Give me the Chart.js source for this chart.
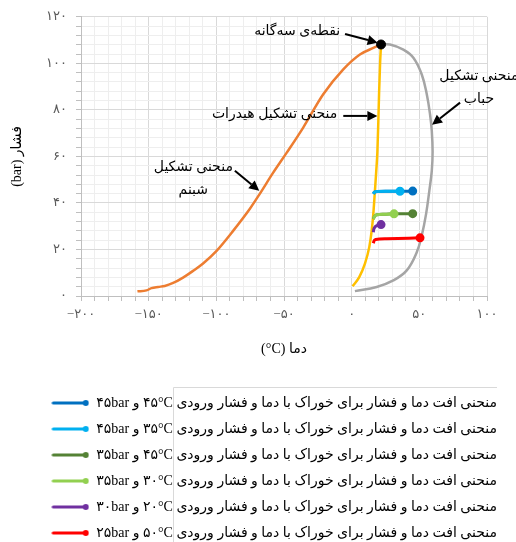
<!DOCTYPE html>
<html>
<head>
<meta charset="utf-8">
<script src="https://cdn.jsdelivr.net/npm/chart.js@4.4.0/dist/chart.umd.min.js"></script>
<style>
  html, body { margin: 0; padding: 0; background: #fff; }
  #wrap { width: 516px; height: 542px; }
</style>
</head>
<body>
<div id="wrap"><canvas id="chart"></canvas></div>
<script>
// dew curve (orange)
var dewT = [-158.3, -151.6, -147.9, -143, -138.1, -131.9, -124.6, -117.2, -109.8, -100, -87.6, -75.2, -67.8, -58, -48.1, -35.8, -21, -6.2, 6.1, 16, 21.7];
var dewP = [2.0, 2.4, 3.4, 3.9, 4.3, 5.6, 7.9, 10.8, 14, 19.3, 28, 37.5, 44, 53, 61.5, 72.4, 86.7, 97.4, 103.8, 106.6, 108.1];
// bubble curve (gray)
var bubT = [21.7, 28.3, 38.2, 45.6, 51.8, 55.5, 57.9, 59.2, 59.8, 59.2, 57.4, 55, 51.8, 48.1, 40.7, 30.8, 18.5, 2.4];
var bubP = [108.1, 108.1, 105.9, 102.4, 95.2, 86.7, 78.1, 71, 62, 53.8, 45.3, 35.3, 26, 18.8, 11, 6.7, 3.9, 2.1];
// hydrate curve (yellow)
var hydT = [0.7, 5.6, 9.8, 13, 14.8, 16, 17.2, 18.2, 19, 19.7, 20.3, 21, 21.7];
var hydP = [4.2, 8.1, 13.9, 21, 28.1, 35.3, 45.3, 54, 62, 75, 88, 100, 108.1];
// triple point
var tripleT = [21.7];
var tripleP = [108.1];

// temperature / pressure drop curves for each feed
var lb_T = [16, 16.8, 19, 25, 35.7];
var lb_P = [43.9, 44.6, 44.9, 45, 45];
var db_T = [16, 16.8, 19, 25, 35.7, 45.1];
var db_P = [43.9, 44.6, 44.9, 45, 45, 45.1];
var lg_T = [16, 17, 18.5, 24, 31.3];
var lg_P = [33.1, 34.3, 34.9, 35.1, 35.3];
var dg_T = [16, 17, 18.5, 24, 31.3, 45.1];
var dg_P = [33.1, 34.3, 34.9, 35.1, 35.3, 35.4];
var pu_T = [16, 16.3, 16.9, 18.9, 21.7];
var pu_P = [27.4, 28.6, 29.4, 30.3, 30.7];
var rd_T = [16, 16.6, 17.8, 25.9, 50.5];
var rd_P = [22.7, 23.8, 24.3, 24.6, 25];

// feed conditions for the legend (°C, bar)
var feedTemp = [45, 35, 45, 30, 20, 50];
var feedPres = [45, 45, 35, 35, 30, 25];

var PERSIAN = '۰۱۲۳۴۵۶۷۸۹';
function fa(n) {
  var s = String(Math.abs(n)).replace(/\d/g, function (d) { return PERSIAN[d]; });
  return n < 0 ? '\u200E\u2212' + s : s;
}
function pts(xs, ys) {
  return xs.map(function (x, i) { return { x: x, y: ys[i] }; });
}
function feedLabel(i) {
  return 'منحنی افت دما و فشار برای خوراک با دما و فشار ورودی ' +
    '\u2066' + fa(feedTemp[i]) + '°C\u2069 و \u2066' + fa(feedPres[i]) + 'bar\u2069';
}
function endDot(ctx) {
  return ctx.dataIndex === ctx.dataset.data.length - 1 ? 3 : 0;
}

var FONT = "'Liberation Serif', 'DejaVu Sans', serif";

// legend swatch: line with a dot at its end
function swatch(color) {
  var c = document.createElement('canvas');
  c.width = 38; c.height = 8;
  var g = c.getContext('2d');
  g.strokeStyle = color; g.lineWidth = 3; g.lineCap = 'round';
  g.beginPath(); g.moveTo(2, 4); g.lineTo(34, 4); g.stroke();
  g.fillStyle = color;
  g.beginPath(); g.arc(34.5, 4, 3, 0, Math.PI * 2); g.fill();
  return c;
}

function feedSet(label, xs, ys, color, rank) {
  return {
    label: label, data: pts(xs, ys), borderColor: color, backgroundColor: color,
    borderWidth: 3, pointRadius: endDot, pointHoverRadius: endDot,
    cubicInterpolationMode: 'monotone', legendRank: rank
  };
}

// callouts, placed in data units
var notes = [
  { lines: ['نقطه‌ی سه‌گانه'], x: -8.5, y: 113.8, align: 'right', from: [-4.9, 112.6], to: [19.2, 108.9] },
  { lines: ['منحنی تشکیل هیدرات'], x: -10.6, y: 78.2, align: 'right', from: [-6.2, 77.4], to: [19.0, 77.4] },
  { lines: ['منحنی تشکیل', 'حباب'], x: 94, y: 94.4, align: 'center', from: [80.1, 83.1], to: [59.4, 73.6] },
  { lines: ['منحنی تشکیل', 'شبنم'], x: -117, y: 55.1, align: 'center', from: [-86.3, 53.8], to: [-68.3, 45.2] }
];

var calloutPlugin = {
  id: 'callouts',
  afterDatasetsDraw: function (chart) {
    var ctx = chart.ctx, xs = chart.scales.x, ys = chart.scales.y;
    ctx.save();
    ctx.font = '14px ' + FONT;
    ctx.fillStyle = '#000';
    ctx.strokeStyle = '#000';
    ctx.textBaseline = 'middle';
    ctx.direction = 'rtl';
    notes.forEach(function (n) {
      var px = xs.getPixelForValue(n.x), py = ys.getPixelForValue(n.y);
      ctx.textAlign = n.align;
      n.lines.forEach(function (t, k) { ctx.fillText(t, px, py + k * 23); });
      var x1 = xs.getPixelForValue(n.from[0]), y1 = ys.getPixelForValue(n.from[1]);
      var x2 = xs.getPixelForValue(n.to[0]), y2 = ys.getPixelForValue(n.to[1]);
      var a = Math.atan2(y2 - y1, x2 - x1), L = 10, W = 5;
      var bx = x2 - L * Math.cos(a), by = y2 - L * Math.sin(a);
      ctx.lineWidth = 2;
      ctx.beginPath(); ctx.moveTo(x1, y1); ctx.lineTo(bx, by); ctx.stroke();
      ctx.beginPath();
      ctx.moveTo(x2, y2);
      ctx.lineTo(bx + W * Math.sin(a), by - W * Math.cos(a));
      ctx.lineTo(bx - W * Math.sin(a), by + W * Math.cos(a));
      ctx.closePath(); ctx.fill();
    });
    ctx.restore();
  },
  afterDraw: function (chart) {
    // thin frame line seen around the legend text block
    var lg = chart.legend;
    if (!lg || !lg.legendHitBoxes.length) return;
    var ctx = chart.ctx, hb = lg.legendHitBoxes[0];
    ctx.save();
    ctx.font = '14px ' + FONT;
    ctx.direction = 'rtl';
    var right = hb.left + hb.width;
    var w = ctx.measureText('منحنی افت دما و فشار برای خوراک با دما و فشار ورودی').width;
    var vx = Math.round(right - w - 3) + 0.5, ty = Math.round(hb.top - 9) + 0.5;
    ctx.strokeStyle = '#d9d9d9'; ctx.lineWidth = 1;
    ctx.beginPath(); ctx.moveTo(right, ty); ctx.lineTo(vx, ty); ctx.lineTo(vx, chart.height); ctx.stroke();
    ctx.restore();
  }
};

var datasets = [
  { label: 'triple', data: pts(tripleT, tripleP), borderColor: '#000', backgroundColor: '#000', pointRadius: 4.5, showLine: false },
  feedSet(feedLabel(1), lb_T, lb_P, '#00B0F0', 1),
  feedSet(feedLabel(0), db_T, db_P, '#0070C0', 0),
  feedSet(feedLabel(3), lg_T, lg_P, '#92D050', 3),
  feedSet(feedLabel(2), dg_T, dg_P, '#548235', 2),
  feedSet(feedLabel(4), pu_T, pu_P, '#7030A0', 4),
  feedSet(feedLabel(5), rd_T, rd_P, '#FF0000', 5),
  { label: 'hydrate', data: pts(hydT, hydP), borderColor: '#FFC000', borderWidth: 2.5, pointRadius: 0, cubicInterpolationMode: 'monotone' },
  { label: 'dew', data: pts(dewT, dewP), borderColor: '#ED7D31', borderWidth: 2.5, pointRadius: 0, cubicInterpolationMode: 'monotone' },
  { label: 'bubble', data: pts(bubT, bubP), borderColor: '#A5A5A5', borderWidth: 2.5, pointRadius: 0, tension: 0.4 }
];

new Chart(document.getElementById('chart'), {
  type: 'scatter',
  data: { datasets: datasets },
  plugins: [calloutPlugin],
  options: {
    responsive: true,
    maintainAspectRatio: false,
    animation: false,
    showLine: true,
    layout: { padding: { top: 16, left: 0, right: 7, bottom: -8 } },
    plugins: {
      tooltip: { enabled: false },
      legend: {
        position: 'bottom',
        align: 'end',
        textDirection: 'rtl',
        labels: {
          usePointStyle: true,
          pointStyleWidth: 38,
          padding: 12,
          color: '#000',
          font: { family: FONT, size: 14 },
          generateLabels: function (chart) {
            var items = Chart.defaults.plugins.legend.labels.generateLabels(chart);
            items = items.filter(function (it) {
              return chart.data.datasets[it.datasetIndex].legendRank !== undefined;
            });
            items.forEach(function (it) {
              it.pointStyle = swatch(chart.data.datasets[it.datasetIndex].borderColor);
            });
            items.sort(function (a, b) {
              return chart.data.datasets[a.datasetIndex].legendRank - chart.data.datasets[b.datasetIndex].legendRank;
            });
            return items;
          }
        }
      }
    },
    scales: {
      x: {
        type: 'linear', min: -200, max: 100,
        afterFit: function (s) { s.height = 88; s.paddingRight = 29; },
        border: { color: '#bfbfbf' },
        grid: {
          tickLength: 5, tickColor: '#bfbfbf',
          color: function (c) { return c.tick && c.tick.value % 50 === 0 ? '#d9d9d9' : '#eeeeee'; }
        },
        ticks: {
          stepSize: 10, autoSkip: false, maxRotation: 0, padding: 6,
          color: '#595959', font: { family: FONT, size: 13 },
          callback: function (v) { return v % 50 === 0 ? fa(v) : ''; }
        },
        title: {
          display: true, text: '\u2067دما \u2066(°C)\u2069\u2069', color: '#000',
          font: { family: FONT, size: 14 }, padding: { top: 0, bottom: 26 }
        }
      },
      y: {
        type: 'linear', min: 0, max: 120,
        afterFit: function (s) { s.width = 81; },
        border: { color: '#bfbfbf' },
        grid: {
          tickLength: 5, tickColor: '#bfbfbf',
          color: function (c) { return c.tick && c.tick.value % 20 === 0 ? '#d9d9d9' : '#eeeeee'; }
        },
        ticks: {
          stepSize: 4, autoSkip: false, padding: 9,
          color: '#595959', font: { family: FONT, size: 13 },
          callback: function (v) { return v % 20 === 0 ? fa(v) : ''; }
        },
        title: {
          display: true, text: '\u2067فشار (bar)\u2069', color: '#000',
          font: { family: FONT, size: 14 }, padding: { top: 9, bottom: 0 }
        }
      }
    }
  }
});
</script>
</body>
</html>
